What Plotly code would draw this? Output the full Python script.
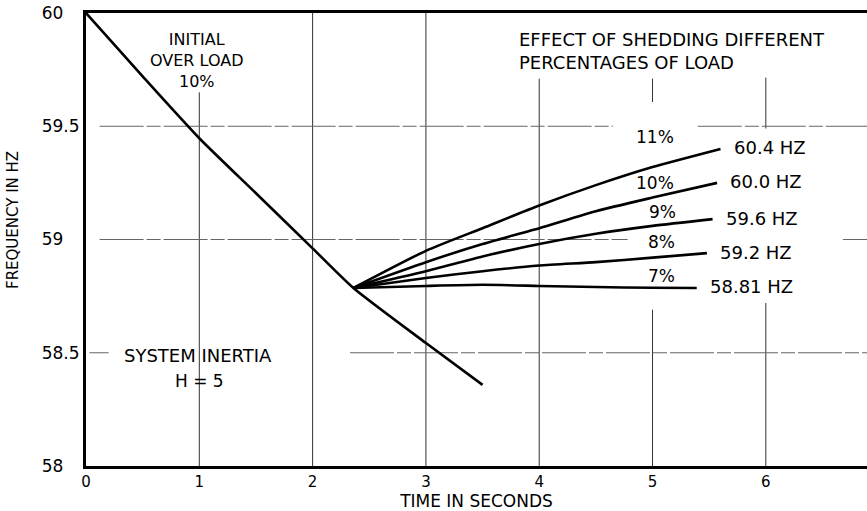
import plotly.graph_objects as go

# ---- data ----
decay_t = [0, 0.5, 1.0, 1.5, 2.0, 2.36, 3.0, 3.5]
decay_f = [60.0, 59.72, 59.447, 59.204, 58.961, 58.786, 58.543, 58.358]

shed_pct = ["11%", "10%", "9%", "8%", "7%"]
shed_end_label = ["60.4 HZ", "60.0 HZ", "59.6 HZ", "59.2 HZ", "58.81 HZ"]
t_11 = [2.36, 3.0, 3.5, 4.0, 4.5, 5.0, 5.6]
f_11 = [58.786, 58.95, 59.05, 59.15, 59.24, 59.32, 59.40]
t_10 = [2.36, 3.0, 3.5, 4.0, 4.5, 5.0, 5.57]
f_10 = [58.786, 58.90, 58.98, 59.05, 59.125, 59.185, 59.25]
t_9 = [2.36, 3.0, 3.5, 4.0, 4.5, 5.0, 5.53]
f_9 = [58.786, 58.86, 58.925, 58.98, 59.025, 59.06, 59.09]
t_8 = [2.36, 3.0, 3.5, 4.0, 4.5, 5.0, 5.48]
f_8 = [58.786, 58.83, 58.86, 58.885, 58.90, 58.92, 58.94]
t_7 = [2.36, 3.0, 3.5, 4.0, 4.5, 5.0, 5.39]
f_7 = [58.786, 58.795, 58.80, 58.795, 58.79, 58.787, 58.786]

x_ticks = [0, 1, 2, 3, 4, 5, 6]
x_tick_text = ["0", "1", "2", "3", "4", "5", "6"]
y_ticks = [58, 58.5, 59, 59.5, 60]
y_tick_text = ["58", "58.5", "59", "59.5", "60"]

FONT = "DejaVu Sans, Liberation Sans, sans-serif"
NB = "\u00a0"

fig = go.Figure()
fig.add_trace(go.Scatter(x=decay_t, y=decay_f, mode="lines",
                         line=dict(color="black", width=2.6, shape="spline", smoothing=0.6),
                         showlegend=False, hoverinfo="skip"))
curves = [(t_11, f_11), (t_10, f_10), (t_9, f_9), (t_8, f_8), (t_7, f_7)]
for (tt, ff), lab in zip(curves, shed_end_label):
    fig.add_trace(go.Scatter(x=tt, y=ff, mode="lines",
                             line=dict(color="black", width=2.6, shape="spline", smoothing=0.6),
                             showlegend=False, hoverinfo="skip"))
    fig.add_annotation(x=tt[-1], y=ff[-1], text=lab, showarrow=False,
                       xanchor="left", yanchor="middle", xshift=11, yshift=1,
                       font=dict(family=FONT, size=18, color="black"))

pct_pos = [(5.02, 59.453), (5.02, 59.249), (5.09, 59.121), (5.075, 58.989), (5.08, 58.839)]
for lab, (px, py) in zip(shed_pct, pct_pos):
    fig.add_annotation(x=px, y=py, text=lab, showarrow=False,
                       font=dict(family=FONT, size=17, color="black"))

# ---- scanned-style grid segments ----
vseg = [(1, 59.65, 58), (2, 60, 58), (3, 60, 58), (4, 59.71, 58),
        (5, 59.71, 59.607), (5, 58.69, 58), (6, 59.715, 59.49), (6, 58.72, 58)]
hseg = [(59.5, 0.12, 4.65), (59.5, 5.40, 6.9), (59.0, 0.12, 4.78), (59.0, 6.68, 6.9),
        (58.5, 0.03, 0.2), (58.5, 2.33, 6.9)]
for x, y0, y1 in vseg:
    fig.add_shape(type="line", x0=x, x1=x, y0=y0, y1=y1, layer="below",
                  line=dict(color="#333333", width=1))
for y, x0, x1 in hseg:
    fig.add_shape(type="line", x0=x0, x1=x1, y0=y, y1=y, layer="below",
                  line=dict(color="#666666", width=1, dash="44px,3px,14px,3px"))

fig.add_annotation(x=0.98, y=59.79, text="INITIAL<br>OVER LOAD<br>10%", showarrow=False,
                   font=dict(family=FONT, size=16, color="black"))
fig.add_annotation(x=3.80, y=59.834, text="EFFECT OF SHEDDING DIFFERENT<br>PERCENTAGES OF LOAD",
                   showarrow=False, xanchor="left", align="left",
                   font=dict(family=FONT, size=18, color="black"))
fig.add_annotation(x=0.32, y=58.49, text="SYSTEM INERTIA", showarrow=False, xanchor="left",
                   font=dict(family=FONT, size=18, color="black"))
fig.add_annotation(x=1.0, y=58.375, text="H = 5", showarrow=False,
                   font=dict(family=FONT, size=17, color="black"))
fig.add_annotation(xref="paper", yref="paper", x=-0.0935, y=0.543,
                   xanchor="center", yanchor="middle",
                   text="FREQUENCY IN HZ", textangle=-90, showarrow=False,
                   font=dict(family=FONT, size=15, color="black"))

y_text_padded = [t if "." in t else t + NB * 3 for t in y_tick_text]

fig.update_xaxes(range=[0, 6.893], tickvals=x_ticks, ticktext=x_tick_text,
                 showgrid=False, zeroline=False, showline=True, linewidth=3,
                 linecolor="black", mirror=True, ticks="",
                 tickfont=dict(family=FONT, size=15, color="black"),
                 title=dict(text="TIME IN SECONDS", standoff=4,
                            font=dict(family=FONT, size=17, color="black")))
fig.update_yaxes(range=[58, 60], tickvals=y_ticks, ticktext=y_text_padded,
                 showgrid=False, zeroline=False, showline=True, linewidth=3,
                 linecolor="black", mirror=False, ticks="",
                 tickfont=dict(family=FONT, size=17, color="black"))
fig.update_layout(width=867, height=511, margin=dict(l=86, r=0, t=13, b=45),
                  paper_bgcolor="white", plot_bgcolor="white", showlegend=False)
fig.write_html("out.html")
